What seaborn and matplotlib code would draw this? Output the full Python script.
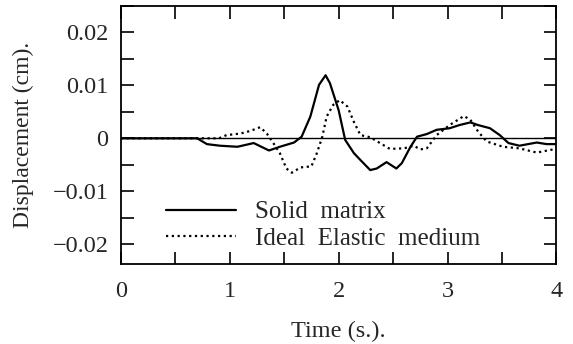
import matplotlib
matplotlib.use("Agg")
import matplotlib.pyplot as plt
import seaborn as sns
import pandas as pd
from matplotlib.ticker import MultipleLocator

# Data
t_solid = [0.0, 0.70, 0.79, 0.91, 1.07, 1.22, 1.36, 1.46, 1.59, 1.66, 1.74, 1.82, 1.88,
           1.92, 2.00, 2.06, 2.14, 2.20, 2.29, 2.35, 2.44, 2.53, 2.58, 2.66, 2.72, 2.81,
           2.90, 3.02, 3.11, 3.21, 3.28, 3.39, 3.48, 3.56, 3.66, 3.82, 3.91, 3.99]
v_solid = [0.0, 0.0, -0.0011, -0.0014, -0.0016, -0.0009, -0.0023, -0.0016, -0.0008, 0.0003,
           0.0041, 0.0101, 0.0119, 0.0104, 0.0053, -0.0003, -0.0028, -0.0041, -0.0060,
           -0.0057, -0.0045, -0.0057, -0.0047, -0.0016, 0.0003, 0.0008, 0.0016, 0.0019,
           0.0025, 0.0030, 0.0025, 0.0019, 0.0006, -0.0009, -0.0014, -0.0008, -0.0011, -0.0011]

t_elastic = [0.0, 0.90, 0.97, 1.10, 1.19, 1.28, 1.34, 1.40, 1.46, 1.52, 1.57, 1.65, 1.75,
             1.80, 1.85, 1.89, 1.95, 2.01, 2.08, 2.14, 2.20, 2.29, 2.38, 2.47, 2.60, 2.69,
             2.75, 2.81, 2.90, 3.02, 3.15, 3.21, 3.28, 3.36, 3.51, 3.66, 3.82, 3.97]
v_elastic = [0.0, 0.0, 0.0006, 0.0009, 0.0014, 0.0021, 0.0009, -0.0009, -0.0028, -0.0057,
             -0.0065, -0.0055, -0.0053, -0.0028, 0.0003, 0.0041, 0.0063, 0.0072, 0.0060,
             0.0031, 0.0006, 0.0002, -0.0009, -0.0020, -0.0019, -0.0014, -0.0021, -0.0019,
             0.0006, 0.0025, 0.0042, 0.0035, 0.0013, -0.0006, -0.0016, -0.0019, -0.0027, -0.0021]

series_names = ["Solid  matrix", "Ideal  Elastic  medium"]
x_ticks = [0, 1, 2, 3, 4]
x_tick_labels = ["0", "1", "2", "3", "4"]
y_ticks = [-0.02, -0.01, 0.0, 0.01, 0.02]
y_tick_labels = ["\u22120.02", "\u22120.01", "0", "0.01", "0.02"]

sns.set_theme(style="white")
plt.rcParams["font.family"] = ["Liberation Serif", "DejaVu Serif"]

fig = plt.figure(figsize=(5.73, 3.44), dpi=100)
ax = fig.add_axes([0.211, 0.233, 0.760, 0.750])

df_s = pd.DataFrame({"t": t_solid, "v": v_solid})
df_e = pd.DataFrame({"t": t_elastic, "v": v_elastic})

ax.axhline(0, color="black", lw=1.0, zorder=1)
sns.lineplot(data=df_s, x="t", y="v", ax=ax, color="black", lw=1.6,
             label=series_names[0], zorder=3)
sns.lineplot(data=df_e, x="t", y="v", ax=ax, color="black", lw=1.6,
             linestyle=(0, (1, 1.6)), label=series_names[1], zorder=2)

ax.set_xlim(0, 4)
ax.set_ylim(-0.0237, 0.025)
ax.set_xticks(x_ticks)
ax.set_xticklabels(x_tick_labels)
ax.set_yticks(y_ticks)
ax.set_yticklabels(y_tick_labels)
ax.xaxis.set_minor_locator(MultipleLocator(0.5))
ax.yaxis.set_minor_locator(MultipleLocator(0.005))
ax.tick_params(which="both", direction="in", top=True, right=True, bottom=True, left=True,
               length=9, width=1.2, color="black", labelsize=17.5)
ax.tick_params(axis="y", which="major", pad=9)
ax.tick_params(axis="x", which="major", pad=12)
for s in ax.spines.values():
    s.set_color("black")
    s.set_linewidth(1.3)

ax.set_xlabel("Time (s.).", fontsize=17.5, labelpad=14)
ax.set_ylabel("Displacement (cm).", fontsize=17, labelpad=13)

leg = ax.legend(loc="lower left", bbox_to_anchor=(0.075, 0.005), frameon=False,
                fontsize=18, handlelength=2.8, handletextpad=0.75, labelspacing=0.17,
                borderpad=0.0)

fig.savefig("out.png", dpi=100)
